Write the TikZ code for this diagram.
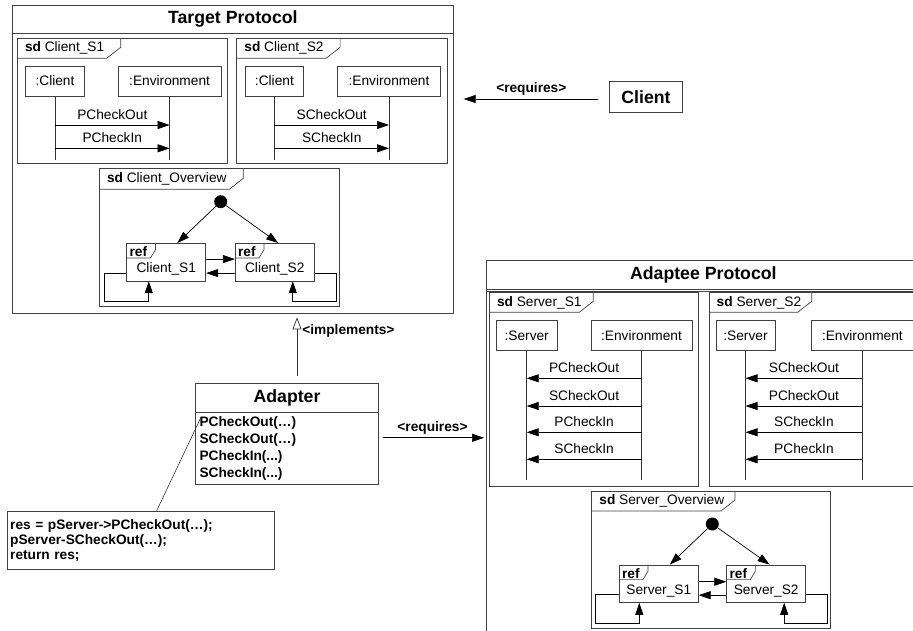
\documentclass[tikz,border=0pt]{standalone}
\usepackage{fontspec}
\setmainfont{Liberation Sans}
\usetikzlibrary{arrows.meta,positioning}

\tikzset{
  frm/.style={draw=black!75, line width=0.7pt},
  lifebox/.style={draw=black!75, line width=0.7pt, minimum height=30pt, inner sep=2pt},
  lifeline/.style={draw=black!80, line width=0.7pt},
  msg/.style={draw=black, line width=0.7pt, -{Triangle[length=12pt,width=8pt]}},
  msglabel/.style={above=3pt, inner sep=2pt},
  sdtag/.style={anchor=west, inner sep=1pt},
  startdot/.style={circle, fill=black, minimum size=13pt, inner sep=0pt},
  refframe/.style={draw=black!75, line width=0.7pt, minimum width=79pt, minimum height=37.5pt},
  titlebar/.style={draw=black!75, line width=0.7pt, anchor=north west, font=\fontsize{17.7}{20}\selectfont\bfseries},
  classbox/.style={draw=black!75, line width=0.7pt, font=\fontsize{17.7}{20}\selectfont\bfseries},
  reqarrow/.style={draw=black, line width=0.7pt, -{Triangle[length=12pt,width=8pt]}},
  implarrow/.style={draw=black!80, line width=0.7pt, -{Triangle[open,length=12pt,width=9pt]}},
  stereo/.style={inner sep=2pt, font=\fontsize{13.7}{16}\selectfont\bfseries},
}

% sd frame with its name tab: width, height, tab width, tab height, label
\newcommand{\sdframe}[5]{%
  \draw[frm] (0,0) rectangle (#1,#2);
  \draw[frm] (0,#4) -- ({#3-14},#4) -- (#3,{#4-11}) -- (#3,0);
  \node[sdtag] (tag) at (6.5,{#4/2}) {#5};
}
% ref box of an overview: name, position, text
\newcommand{\refbox}[3]{%
  \node[refframe] (#1) at (#2) {};
  \node[inner sep=1pt] (#1t) at ([yshift=-7pt]#1.center) {#3};
  \draw[frm] ([yshift=-15pt]#1.north west) -- ++(24,0) -- ++(5,-8.3) -- ++(0,-6.7);
  \node[sdtag] (#1r) at ([shift={(2,8.5)}]#1.north west) {\textbf{ref}};
}

\begin{document}
\begin{tikzpicture}[x=1pt, y=-1pt, font=\fontsize{13.7}{16}\selectfont]
  \useasboundingbox (0,0) rectangle (913,631);
  \clip (0,0) rectangle (913,631);

  % target protocol
  \node[draw=black!75, line width=0.7pt, anchor=north west, minimum width=441pt, minimum height=308pt] (tgt) at (12,5) {};
  \node[titlebar, minimum width=441pt, minimum height=28pt] (tgttitle) at (12,5) {Target Protocol};

  \begin{scope}[shift={(17.3,38.3)}, name prefix=cs1-]
    \sdframe{210.4}{125}{103.4}{20}{\textbf{sd} Client\_S1}
    \node[lifebox, minimum width=58.6pt] (obj) at (37.7,42.7) {:Client};
    \node[lifebox, minimum width=102.7pt] (env) at (152.3,42.7) {:Environment};
    \draw[lifeline] (obj) -- (obj |- 0,121.7);
    \draw[lifeline] (env) -- (env |- 0,121.7);
    \draw[msg] (obj |- 0,86.7) -- node[msglabel] (m1) {PCheckOut} (env |- 0,86.7);
    \draw[msg] (obj |- 0,110) -- node[msglabel] (m2) {PCheckIn} (env |- 0,110);
  \end{scope}

  \begin{scope}[shift={(236.7,38.3)}, name prefix=cs2-]
    \sdframe{210.4}{125}{103.4}{20}{\textbf{sd} Client\_S2}
    \node[lifebox, minimum width=58.6pt] (obj) at (37.7,42.7) {:Client};
    \node[lifebox, minimum width=102.7pt] (env) at (152.3,42.7) {:Environment};
    \draw[lifeline] (obj) -- (obj |- 0,121.7);
    \draw[lifeline] (env) -- (env |- 0,121.7);
    \draw[msg] (obj |- 0,86.7) -- node[msglabel] (m1) {SCheckOut} (env |- 0,86.7);
    \draw[msg] (obj |- 0,110) -- node[msglabel] (m2) {SCheckIn} (env |- 0,110);
  \end{scope}

  \begin{scope}[shift={(99.3,168.3)}, name prefix=co-]
    \sdframe{240}{138.4}{144}{21}{\textbf{sd} Client\_Overview}
    \node[startdot] (start) at (121.4,33.4) {};
    \refbox{s1}{67,93.8}{Client\_S1}
    \refbox{s2}{175.5,93.8}{Client\_S2}
    \coordinate (l1) at (4.7,133.4);
    \coordinate (l2) at (236.7,133.4);
    \draw[msg] (start) -- (s1.60);
    \draw[msg] (start) -- (s2.80);
    \draw[msg] ([yshift=3pt]s1.east) -- ([yshift=3pt]s2.west);
    \draw[msg] ([yshift=-11pt]s2.west) -- ([yshift=-11pt]s1.east);
    \draw[msg] ([yshift=-11pt]s1.west) -| (l1) -| ([xshift=-17.5pt]s1.south);
    \draw[msg] ([yshift=-11pt]s2.east) -| (l2) -| ([xshift=18pt]s2.south);
  \end{scope}

  % client
  \node[classbox, minimum width=73.4pt, minimum height=30.6pt] (client) at (646,97) {Client};
  \draw[reqarrow, shorten <=11pt, shorten >=10pt] ([yshift=-2pt]client.west) -- node[stereo, above=1pt] (req1) {<requires>} ([yshift=-2pt]client.west -| tgt.east);

  % adapter
  \node[classbox, anchor=north west, minimum width=183.3pt, minimum height=29pt] (adapter) at (195,382.7) {Adapter};
  \node[draw=black!75, line width=0.7pt, anchor=north, minimum width=183.3pt, minimum height=71.3pt, text width=175pt, inner xsep=4.2pt, align=left, font=\fontsize{13.7}{17}\selectfont\bfseries] (ops) at (adapter.south) {PCheckOut(…)\\SCheckOut(…)\\PCheckIn(...)\\SCheckIn(...)};
  \draw[implarrow, shorten <=6.7pt, shorten >=3.7pt] ([xshift=10pt]adapter.north) -- node[stereo, pos=0.75, right=3pt] (impl) {<implements>} ([xshift=10pt]adapter.north |- tgt.south);

  \node[draw=black!75, line width=0.7pt, anchor=north west, minimum width=267.3pt, minimum height=58.3pt, text width=261pt, inner xsep=3.1pt, align=left, font=\fontsize{13.7}{15}\selectfont\bfseries] (note) at (6.7,510.7) {res = pServer->PCheckOut(…);\\pServer-SCheckOut(…);\\return res;};
  \draw[draw=black!80, line width=0.6pt] ([shift={(6,5)}]ops.north west) -- ([xshift=16pt]note.north);

  % adaptee protocol
  \node[draw=black!75, line width=0.7pt, anchor=north west, minimum width=434pt, minimum height=420pt] (adp) at (486,260) {};
  \node[titlebar, minimum width=434pt, minimum height=28.5pt] (adptitle) at (486,260) {Adaptee Protocol};
  \draw[frm] ([yshift=-2.5pt]adptitle.south west) -- ([yshift=-2.5pt]adptitle.south east);
  \draw[reqarrow, shorten <=4.4pt, shorten >=2pt] ([yshift=10.6pt]ops.east) -- node[stereo, above=1pt] (req2) {<requires>} ([yshift=10.6pt]ops.east -| adp.west);

  \begin{scope}[shift={(489.3,292.7)}, name prefix=ss1-]
    \sdframe{209}{193.3}{104}{19.6}{\textbf{sd} Server\_S1}
    \node[lifebox, minimum width=61.3pt, minimum height=29.3pt] (obj) at (37.4,42.7) {:Server};
    \node[lifebox, minimum width=101pt, minimum height=29.3pt] (env) at (152.2,42.7) {:Environment};
    \draw[lifeline] (obj) -- (obj |- 0,187.3);
    \draw[lifeline] (env) -- (env |- 0,187.3);
    \draw[msg] (env |- 0,85.6) -- node[msglabel] (m1) {PCheckOut} (obj |- 0,85.6);
    \draw[msg] (env |- 0,113.3) -- node[msglabel] (m2) {SCheckOut} (obj |- 0,113.3);
    \draw[msg] (env |- 0,139.6) -- node[msglabel] (m3) {PCheckIn} (obj |- 0,139.6);
    \draw[msg] (env |- 0,166.6) -- node[msglabel] (m4) {SCheckIn} (obj |- 0,166.6);
  \end{scope}

  \begin{scope}[shift={(709,292.7)}, name prefix=ss2-]
    \sdframe{209}{193.3}{102.7}{19.6}{\textbf{sd} Server\_S2}
    \node[lifebox, minimum width=59pt, minimum height=29.3pt] (obj) at (36.5,42.7) {:Server};
    \node[lifebox, minimum width=101.3pt, minimum height=29.3pt] (env) at (153.35,42.7) {:Environment};
    \draw[lifeline] (obj) -- (obj |- 0,187.3);
    \draw[lifeline] (env) -- (env |- 0,187.3);
    \draw[msg] (env |- 0,85.6) -- node[msglabel] (m1) {SCheckOut} (obj |- 0,85.6);
    \draw[msg] (env |- 0,113.3) -- node[msglabel] (m2) {PCheckOut} (obj |- 0,113.3);
    \draw[msg] (env |- 0,139.6) -- node[msglabel] (m3) {SCheckIn} (obj |- 0,139.6);
    \draw[msg] (env |- 0,166.6) -- node[msglabel] (m4) {PCheckIn} (obj |- 0,166.6);
  \end{scope}

  \begin{scope}[shift={(591.7,491)}, name prefix=so-]
    \sdframe{239}{137.3}{143.3}{20}{\textbf{sd} Server\_Overview}
    \node[startdot] (start) at (120.6,33) {};
    \refbox{s1}{67.1,92.7}{Server\_S1}
    \refbox{s2}{174.5,92.7}{Server\_S2}
    \coordinate (l1) at (3.3,132.3);
    \coordinate (l2) at (235.6,132.3);
    \draw[msg] (start) -- (s1.60);
    \draw[msg] (start) -- (s2.80);
    \draw[msg] ([yshift=2pt]s1.east) -- ([yshift=2pt]s2.west);
    \draw[msg] ([yshift=-11.5pt]s2.west) -- ([yshift=-11.5pt]s1.east);
    \draw[msg] ([yshift=-11pt]s1.west) -| (l1) -| ([xshift=-19.5pt]s1.south);
    \draw[msg] ([yshift=-11pt]s2.east) -| (l2) -| ([xshift=18pt]s2.south);
  \end{scope}
\end{tikzpicture}
\end{document}
